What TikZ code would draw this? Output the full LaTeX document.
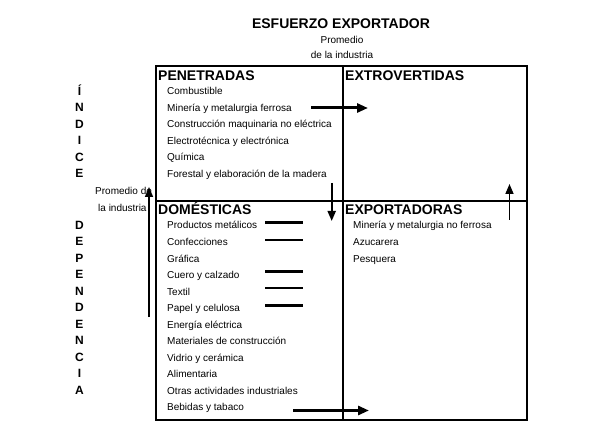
\documentclass[tikz,border=0pt]{standalone}
\usepackage{fontspec}
\setmainfont{Liberation Sans}
\usetikzlibrary{arrows.meta}
\begin{document}
\begin{tikzpicture}[x=1pt, y=-1pt,
  item/.style={anchor=base west, font=\fontsize{10}{12}\selectfont, inner sep=0pt},
  itemc/.style={anchor=base, font=\fontsize{10}{12}\selectfont, inner sep=0pt},
  head/.style={anchor=base west, font=\fontsize{14}{16}\selectfont\bfseries, inner sep=0pt},
  letra/.style={anchor=base, font=\fontsize{12}{14}\selectfont\bfseries, inner sep=0pt},
  flecha/.style={-{Triangle[length=11pt,width=9pt]}, line width=3pt},
  flechafina/.style={-{Triangle[length=10pt,width=8pt]}, line width=1.6pt}]
  \useasboundingbox (0,0) rectangle (594,438);
  % cuadrantes
  \coordinate (NO) at (156,66);
  \coordinate (SE) at (527,420);
  \coordinate (Mn) at (342.5,66);
  \coordinate (Ms) at (342.5,420);
  \coordinate (Mo) at (156,201);
  \coordinate (Me) at (527,201);
  \draw[line width=2pt] (NO) rectangle (SE);
  \draw[line width=2pt] (Mn) -- (Ms);
  \draw[line width=2pt] (Mo) -- (Me);
  % titulo y promedio
  \node[anchor=base, font=\fontsize{14}{16}\selectfont\bfseries, inner sep=0pt] (titulo) at (341,29) {ESFUERZO EXPORTADOR};
  \node[itemc] (prom) at (342,44) {Promedio};
  \node[itemc] (ind) at (342,59) {de la industria};
  \node[item] (prom2) at (95,195) {Promedio de};
  \node[item] (ind2) at (98,211.7) {la industria};
  % encabezados
  \node[head] (pen) at (158,80.7) {PENETRADAS};
  \node[head] (ext) at (345,80.7) {EXTROVERTIDAS};
  \node[head] (dom) at (158,215) {DOMÉSTICAS};
  \node[head] (exp) at (345,215) {EXPORTADORAS};
  % eje vertical
  \foreach \l [count=\i] in {Í,N,D,I,C,E}
    \node[letra] (ind\i) at (79.5,{95.5+16.5*(\i-1)}) {\l};
  \foreach \l [count=\i] in {D,E,P,E,N,D,E,N,C,I,A}
    \node[letra] (dep\i) at (79.5,{229.3+16.5*(\i-1)}) {\l};
  % ramas
  \foreach \t [count=\i] in {Combustible, Minería y metalurgia ferrosa,
      Construcción maquinaria no eléctrica, Electrotécnica y electrónica,
      Química, Forestal y elaboración de la madera}
    \node[item] (pe\i) at (167,{95+16.5*(\i-1)}) {\t};
  \foreach \t [count=\i] in {Productos metálicos, Confecciones, Gráfica,
      Cuero y calzado, Textil, Papel y celulosa, Energía eléctrica,
      Materiales de construcción, Vidrio y cerámica, Alimentaria,
      Otras actividades industriales, Bebidas y tabaco}
    \node[item] (do\i) at (167,{229+16.5*(\i-1)}) {\t};
  \foreach \t [count=\i] in {Minería y metalurgia no ferrosa, Azucarera, Pesquera}
    \node[item] (ex\i) at (353,{229+16.5*(\i-1)}) {\t};
  % rayas
  \foreach \y/\w in {223/3pt, 240/2pt, 272/3pt, 288/2pt, 305/3pt}
    \draw[line width=\w] (265,\y) -- (303,\y);
  % flechas
  \coordinate (a1) at (311,108);
  \coordinate (a2) at (368,108);
  \coordinate (b1) at (293,410.5);
  \coordinate (b2) at (369,410.5);
  \coordinate (c1) at (331.7,183);
  \coordinate (c2) at (331.7,221);
  \coordinate (d1) at (509.5,220);
  \coordinate (d2) at (509.5,184);
  \coordinate (e1) at (149,317);
  \coordinate (e2) at (149,187);
  \draw[flecha] (a1) -- (a2);
  \draw[flecha] (b1) -- (b2);
  \draw[flechafina, line width=2pt] (c1) -- (c2);
  \draw[flechafina] (d1) -- (d2);
  \draw[flechafina] (e1) -- (e2);
\end{tikzpicture}
\end{document}
